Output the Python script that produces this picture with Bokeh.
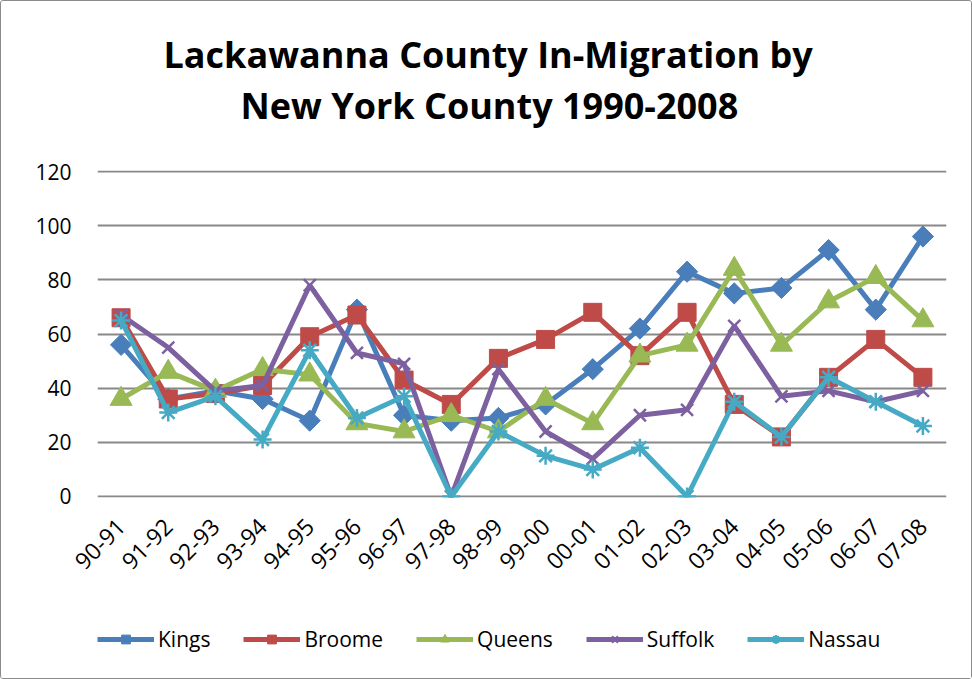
import math
from bokeh.plotting import figure
from bokeh.layouts import column
from bokeh.models import Range1d, FactorRange, FixedTicker, Title, Legend, LegendItem
from bokeh.embed import file_html
from bokeh.resources import INLINE

periods = ["90-91", "91-92", "92-93", "93-94", "94-95", "95-96", "96-97", "97-98", "98-99",
           "99-00", "00-01", "01-02", "02-03", "03-04", "04-05", "05-06", "06-07", "07-08"]
kings =   [56, 36, 39, 36, 28, 69, 30, 28, 29, 34, 47, 62, 83, 75, 77, 91, 69, 96]
broome =  [66, 36, 38, 41, 59, 67, 43, 34, 51, 58, 68, 52, 68, 34, 22, 44, 58, 44]
queens =  [36, 46, 39, 47, 45, 27, 24, 30, 24, 36, 27, 52, 56, 84, 56, 72, 81, 65]
suffolk = [67, 55, 39, 41, 78, 53, 49, 0, 47, 24, 14, 30, 32, 63, 37, 39, 35, 39]
nassau =  [65, 31, 37, 21, 54, 29, 37, 0, 24, 15, 10, 18, 0, 35, 22, 44, 35, 26]
y_ticks = [0, 20, 40, 60, 80, 100, 120]

# name, values, colour, marker, size, angle
series = [
    ("Kings", kings, "#4A7EBB", "square", 15, math.pi / 4),
    ("Broome", broome, "#BE4B48", "square", 18, 0),
    ("Queens", queens, "#98B954", "triangle", 22, 0),
    ("Suffolk", suffolk, "#7D60A0", "x", 17, 0),
    ("Nassau", nassau, "#46AAC5", "asterisk", 18, 0),
]

FONT = "Open Sans"
W = 970
TFS = "36px"


def draw(fig, xs):
    rs = []
    for name, vals, color, marker, size, ang in series:
        r1 = fig.line(xs, vals, line_color=color, line_width=5)
        if marker in ("x", "asterisk"):
            r2 = fig.scatter(xs, vals, marker=marker, size=size, line_color=color, line_width=2.5)
        else:
            r2 = fig.scatter(xs, vals, marker=marker, size=size, angle=ang,
                             fill_color=color, line_color=color)
        rs.append((name, r1, r2))
    return rs


p = figure(x_range=FactorRange(*periods, range_padding=0), y_range=Range1d(-0.37, 120.37),
           frame_width=849, frame_height=327, output_backend="svg", toolbar_location=None,
           min_border_left=96, min_border_right=25, min_border_top=169, min_border_bottom=106)

# spacer between plot and title lines
p.add_layout(Title(text=" ", text_font=FONT, standoff=0, text_font_size="29px"), "above")
p.add_layout(Title(text="New York County 1990-2008", align="left", offset=143,
                   text_font=FONT, standoff=0, text_font_size=TFS, text_font_style="bold",
                   text_color="black"), "above")
p.add_layout(Title(text="Lackawanna County In-Migration by", align="left", offset=66,
                   text_font=FONT, standoff=0, text_font_size=TFS, text_font_style="bold",
                   text_color="black"), "above")

draw(p, periods)

p.yaxis.ticker = FixedTicker(ticks=y_ticks)
p.yaxis.axis_line_color = None
p.yaxis.major_tick_line_color = None
p.yaxis.minor_tick_line_color = None
p.yaxis.major_label_text_font = FONT
p.yaxis.major_label_text_font_size = "21px"
p.yaxis.major_label_text_color = "black"
p.yaxis.major_label_standoff = 20

p.xaxis.axis_line_color = None
p.xaxis.major_tick_line_color = None
p.xaxis.major_label_orientation = math.pi / 4
p.xaxis.major_label_text_font = FONT
p.xaxis.major_label_text_font_size = "23px"
p.xaxis.major_label_text_color = "black"
p.xaxis.major_label_standoff = 19

p.xgrid.grid_line_color = None
p.ygrid.grid_line_color = "#888888"
p.ygrid.grid_line_width = 2
p.outline_line_color = None

# legend strip: same series drawn out of view, only their legend samples show
lg = figure(width=W, height=75, x_range=FactorRange(*periods), y_range=Range1d(500, 501),
            output_backend="svg", toolbar_location=None, min_border=0)
lg.axis.visible = False
lg.grid.visible = False
lg.outline_line_color = None
items = [LegendItem(label=name, renderers=[r1, r2]) for name, r1, r2 in draw(lg, periods)]
legend = Legend(items=items, orientation="horizontal", location=(0, 25),
                glyph_width=57, glyph_height=22, label_text_font=FONT, label_text_font_size="21px",
                label_text_color="black", label_standoff=4, spacing=33, padding=0, margin=0,
                border_line_color=None, background_fill_alpha=0)
lg.add_layout(legend, "center")

layout = column(p, lg, spacing=0,
                styles={"border": "1.5px solid #8a8a8a", "border-radius": "3px"})

open("out.html", "w").write(file_html(layout, INLINE))
